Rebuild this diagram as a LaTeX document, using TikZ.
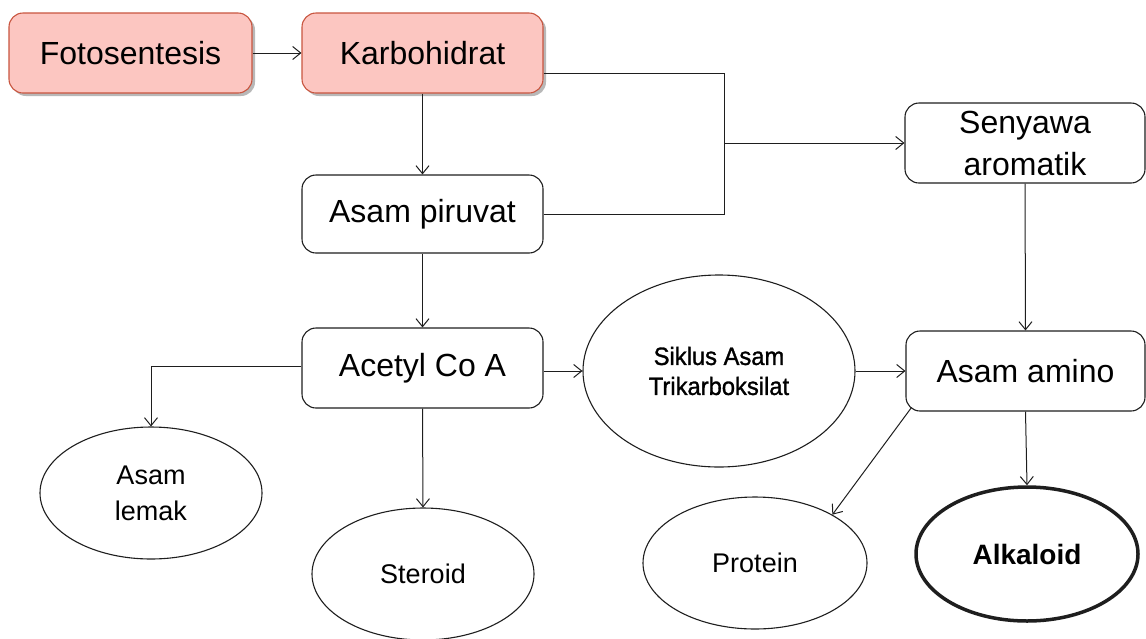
\documentclass[tikz,border=0pt]{standalone}
\usepackage{fontspec}
\setmainfont{Liberation Sans}
\newfontfamily\narrowfont[FakeStretch=0.95,FakeBold=1.2]{Liberation Sans}
\usetikzlibrary{arrows.meta,shapes.geometric,shadows}
\definecolor{pinkfill}{HTML}{FCC6C1}
\definecolor{pinkdraw}{HTML}{C8553F}
\definecolor{lineg}{HTML}{1E1E1E}
\tikzset{
  box/.style={draw=lineg, line width=1.1pt, rounded corners=14pt, fill=white,
    inner sep=0pt, align=center, font=\fontsize{32}{42}\selectfont},
  pinkbox/.style={box, draw=pinkdraw, fill=pinkfill,
    drop shadow={shadow xshift=3pt, shadow yshift=-3pt, fill=gray!70, opacity=0.8}},
  oval/.style={draw=lineg, line width=1.1pt, ellipse, inner sep=0pt, align=center,
    font=\fontsize{26}{36}\selectfont},
  conn/.style={draw=lineg, line width=1pt},
  arr/.style={conn, -{Straight Barb[length=8pt,width=13pt,line width=1pt]}}
}
\begin{document}
\begin{tikzpicture}[x=1pt,y=-1pt]
\useasboundingbox (0,0) rectangle (1146,638);
% nodes
\node[pinkbox, minimum width=243pt, minimum height=80pt] (foto) at (130.5,53) {Fotosentesis};
\node[pinkbox, minimum width=241pt, minimum height=80pt] (karbo) at (422.5,53) {Karbohidrat};
\node[box, minimum width=241pt, minimum height=78pt] (piruvat) at (422.5,214) {Asam piruvat};
\node[box, minimum width=241pt, minimum height=80pt] (acetyl) at (422.5,368) {Acetyl Co A};
\node[box, minimum width=240pt, minimum height=80pt] (senyawa) at (1025,143) {Senyawa\\aromatik};
\node[box, minimum width=239pt, minimum height=80pt] (amino) at (1025.5,371) {Asam amino};
\node[oval, minimum width=272pt, minimum height=192pt, font=\narrowfont\fontsize{25}{30}\selectfont] (siklus) at (719,371) {Siklus Asam\\Trikarboksilat};
\node[oval, minimum width=222pt, minimum height=132pt, font=\fontsize{27}{36}\selectfont] (lemak) at (151,493) {Asam\\lemak};
\node[oval, minimum width=222pt, minimum height=132pt, font=\fontsize{27}{36}\selectfont] (steroid) at (423,574) {Steroid};
\node[oval, minimum width=224pt, minimum height=132pt, font=\fontsize{27}{36}\selectfont] (protein) at (755,563) {Protein};
\node[oval, line width=3.5pt, minimum width=222pt, minimum height=134pt, font=\fontsize{28}{34}\selectfont\bfseries] (alkaloid) at (1027,554) {Alkaloid};
\coordinate (j) at (724,143);
% connectors
\draw[arr] (foto.east) -- (karbo.west);
\draw[arr] (karbo.south) -- (piruvat.north);
\draw[conn] ([yshift=-20pt]karbo.east) -| (j);
\draw[conn] (piruvat.east) -| (j);
\draw[arr] (j) -- (senyawa.west);
\draw[arr] (piruvat.south) -- (acetyl.north);
\draw[arr] (acetyl.east |- siklus.west) -- (siklus.west);
\draw[arr] (siklus.east) -- (amino.west);
\draw[arr] (senyawa.south) -- (amino.north);
\draw[arr] (amino.south) -- (alkaloid.north);
\draw[arr] ([xshift=6pt,yshift=4pt]amino.south west) -- (protein.32);
\draw[arr] ([yshift=2pt]acetyl.west) -| (lemak.north);
\draw[arr] (acetyl.south) -- (steroid.north);
\end{tikzpicture}
\end{document}
